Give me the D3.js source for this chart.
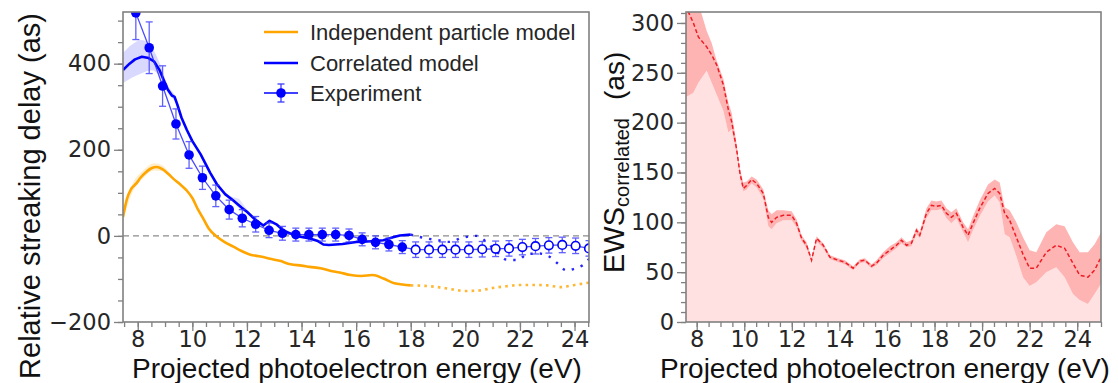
<!DOCTYPE html>
<html>
<head>
<meta charset="utf-8">
<script src="https://cdn.jsdelivr.net/npm/d3@7"></script>
<style>
  body { margin: 0; background: #fff; }
  svg { display: block; }
</style>
</head>
<body>
<svg id="chart" width="1118" height="383"></svg>
<script>
// ---------------- Left panel: relative streaking delay ----------------
// Independent particle model (solid part, computed range)
const ipmE = [7.46, 7.6, 7.75, 7.95, 8.1, 8.3, 8.5, 8.7, 8.9, 9.1, 9.3, 9.55, 9.8, 10.0, 10.2, 10.4, 10.6, 10.9, 11.2, 11.5, 11.8, 12.1, 12.5, 12.85, 13.2, 13.6, 14.0, 14.3, 14.7, 15.05, 15.4, 15.8, 16.2, 16.6, 17.0, 17.4, 17.7, 18.0];
const ipmV = [44, 85, 108, 122, 135, 148, 157, 160, 155, 145, 133, 120, 105, 88, 62, 40, 17, -2, -15, -25, -35, -43, -48, -53, -58, -66, -69, -72, -75, -81, -85, -91, -93, -91, -99, -110, -113, -115];
// Independent particle model (dotted continuation)
const ipmExtE = [18.0, 18.5, 19.0, 19.5, 20.0, 20.5, 21.0, 21.5, 22.0, 22.5, 23.0, 23.5, 24.0, 24.5, 25.0];
const ipmExtV = [-115, -116, -119, -124, -128, -127, -121, -117, -114, -114, -115, -119, -114, -109, -106];
// Uncertainty band of the independent particle model
const ipmBandE  = [7.46, 7.8, 8.2, 8.6, 8.9, 9.2, 9.5];
const ipmBandLo = [36, 100, 134, 152, 150, 136, 118];
const ipmBandHi = [54, 120, 152, 169, 164, 144, 124];

// Correlated model (solid part)
const corE = [7.46, 7.7, 7.9, 8.15, 8.4, 8.6, 8.8, 8.95, 9.1, 9.25, 9.35, 9.45, 9.6, 9.8, 10.0, 10.3, 10.65, 10.9, 11.2, 11.5, 11.8, 12.0, 12.3, 12.6, 12.83, 13.1, 13.35, 13.8, 14.3, 14.6, 14.8, 15.0, 15.5, 16.0, 16.4, 16.7, 17.0, 17.35, 17.6, 18.0];
const corV = [385, 400, 410, 416, 413, 405, 385, 362, 340, 326, 323, 305, 275, 246, 220, 190, 147, 120, 97, 82, 66, 56, 38, 24, 35, 26, 12, 0, -6, -12, -20, -21, -19, -14, -13, -12, -10, -3, 1, 3];
// Correlated model (dotted continuation)
const corExtE = [18.0, 18.3, 18.6, 19.0, 19.4, 19.9, 20.4, 20.9, 21.2, 21.5, 21.9, 22.3, 22.7, 23.1, 23.4, 23.7, 24.0, 24.3, 24.55, 25.0];
const corExtV = [3, -2, -6, -10, -14, -4, 0, -22, -40, -55, -56, -42, -41, -49, -65, -80, -76, -68, -53, -40];
// Uncertainty bands of the correlated model
const corBandE  = [7.46, 7.8, 8.15, 8.5, 8.8, 9.1, 9.4, 9.7];
const corBandLo = [355, 368, 378, 385, 372, 332, 308, 255];
const corBandHi = [425, 445, 455, 440, 402, 350, 322, 262];
const corBand2E  = [11.3, 11.5, 11.7, 11.9, 12.1];
const corBand2Lo = [88, 78, 64, 56, 50];
const corBand2Hi = [94, 90, 86, 70, 54];

// Experiment: filled points (measured) and open points
const expE   = [7.93, 8.42, 8.91, 9.40, 9.88, 10.37, 10.86, 11.35, 11.83, 12.32, 12.81, 13.30, 13.79, 14.27, 14.76, 15.25, 15.74, 16.22, 16.71, 17.20, 17.69];
const expV   = [518, 437, 348, 260, 188, 135, 93, 61, 41, 27, 13, 6, 3, 3, 3, 3, 1, -8, -15, -20, -26];
const expErr = [62, 60, 47, 35, 31, 27, 25, 22, 20, 18, 17, 16, 15, 15, 15, 15, 15, 15, 15, 15, 15];
const expOpenE   = [18.18, 18.67, 19.16, 19.64, 20.13, 20.62, 21.11, 21.60, 22.09, 22.57, 23.06, 23.55, 24.04, 24.53];
const expOpenV   = [-32, -32, -32, -32, -32, -31, -30, -29, -26, -24, -22, -21, -23, -29];
const expOpenErr = [18, 18, 18, 18, 18, 18, 18, 18, 18, 18, 18, 18, 18, 18];

const leftXTicks = [8, 10, 12, 14, 16, 18, 20, 22, 24];
const leftYTicks = [-200, 0, 200, 400];
const legendLabels = ["Independent particle model", "Correlated model", "Experiment"];

// ---------------- Right panel: EWS delay ----------------
const ewsE  = [7.55, 7.65, 7.86, 8.07, 8.42, 8.63, 8.84, 9.12, 9.33, 9.47, 9.68, 9.82, 9.96, 10.1, 10.31, 10.52, 10.8, 11.01, 11.15, 11.36, 11.64, 11.99, 12.2, 12.41, 12.62, 12.83, 13.04, 13.32, 13.6, 13.95, 14.23, 14.58, 14.86, 15.07, 15.35, 15.56, 15.84, 16.12, 16.4, 16.61, 16.82, 17.03, 17.24, 17.38, 17.66, 17.87, 18.08, 18.29, 18.5, 18.71, 18.92, 19.2, 19.41, 19.62, 19.9, 20.25, 20.53, 20.74, 20.95, 21.16, 21.44, 21.72, 22.0, 22.28, 22.7, 23.12, 23.47, 23.82, 24.1, 24.45, 24.73, 24.94, 25.0];
const ewsV  = [318, 311, 300, 286, 276, 268, 258, 238, 213, 201, 173, 149, 134, 137, 143, 139, 129, 105, 100, 105, 107, 107, 99, 84, 77, 62, 84, 77, 65, 62, 60, 54, 61, 62, 56, 59, 67, 72, 77, 82, 77, 79, 92, 87, 109, 117, 116, 117, 109, 105, 109, 95, 87, 99, 114, 129, 134, 129, 109, 102, 85, 68, 54, 54, 70, 77, 74, 59, 47, 45, 52, 62, 64];
const ewsLo = [226, 227, 230, 240, 252, 240, 228, 212, 190, 193, 168, 145, 131, 133, 139, 135, 124, 96, 93, 99, 102, 102, 95, 81, 74, 60, 81, 74, 63, 60, 58, 52, 59, 60, 54, 57, 64, 69, 74, 79, 75, 76, 88, 84, 104, 112, 112, 113, 104, 99, 104, 90, 80, 92, 106, 121, 127, 120, 88, 85, 66, 45, 36, 40, 50, 55, 45, 28, 22, 18, 28, 36, 38];
const ewsHi = [330, 330, 325, 320, 292, 280, 262, 244, 220, 210, 178, 153, 140, 141, 146, 143, 133, 112, 108, 112, 112, 111, 103, 87, 80, 64, 86, 79, 67, 64, 62, 56, 63, 64, 58, 62, 70, 76, 80, 85, 80, 82, 95, 90, 114, 122, 121, 122, 114, 110, 114, 100, 93, 106, 122, 138, 143, 140, 115, 112, 100, 85, 72, 70, 90, 98, 96, 80, 70, 70, 78, 87, 90];

const rightXTicks = [8, 10, 12, 14, 16, 18, 20, 22, 24];
const rightYTicks = [0, 50, 100, 150, 200, 250, 300];

// ---------------- Drawing ----------------
const svg = d3.select("#chart");
const TICK_FONT = "'DejaVu Sans', sans-serif";
const LABEL_FONT = "'Liberation Sans', Arial, sans-serif";
const SPINE = "#808080";
const TEXT = "#262626";

function frame(g, x, y, ticksX, minorX, ticksY, minorY) {
  const [x0, x1] = x.range();
  const [y0, y1] = y.range();
  // minor ticks
  const mx = g.append("g").attr("transform", `translate(0,${y0})`)
    .call(d3.axisBottom(x).tickValues(minorX).tickSize(5).tickFormat(""));
  const my = g.append("g").attr("transform", `translate(${x0},0)`)
    .call(d3.axisLeft(y).tickValues(minorY).tickSize(5).tickFormat(""));
  // major ticks with labels
  const ax = g.append("g").attr("transform", `translate(0,${y0})`)
    .call(d3.axisBottom(x).tickValues(ticksX).tickSize(9).tickPadding(0).tickFormat(d3.format("d")));
  const ay = g.append("g").attr("transform", `translate(${x0},0)`)
    .call(d3.axisLeft(y).tickValues(ticksY).tickSize(9).tickPadding(3).tickFormat(d3.format("d")));
  [mx, my, ax, ay].forEach(a => {
    a.select(".domain").remove();
    a.selectAll("line").attr("stroke", SPINE).attr("stroke-width", 1.3);
    a.selectAll("text").attr("font-family", TICK_FONT).attr("font-size", 22.5).attr("fill", TEXT);
  });
  // full box
  g.append("rect").attr("x", x0).attr("y", y1).attr("width", x1 - x0).attr("height", y0 - y1)
    .attr("fill", "none").attr("stroke", SPINE).attr("stroke-width", 1.6);
}

function range(a, b, s) { const r = []; for (let v = a; v <= b + 1e-9; v += s) r.push(+v.toFixed(3)); return r; }

// ===== Left panel =====
{
  const x = d3.scaleLinear().domain([7.46, 24.53]).range([123, 589]);
  const y = d3.scaleLinear().domain([-200, 520]).range([322, 12]);
  const g = svg.append("g");
  g.append("clipPath").attr("id", "clipL").append("rect")
    .attr("x", 123).attr("y", 12).attr("width", 466).attr("height", 310);
  const p = g.append("g").attr("clip-path", "url(#clipL)");

  const line = d3.line().x(d => x(d[0])).y(d => y(d[1]));
  const smooth = d3.line().x(d => x(d[0])).y(d => y(d[1])).curve(d3.curveMonotoneX);
  const band = d3.area().x(d => x(d[0])).y0(d => y(d[1])).y1(d => y(d[2])).curve(d3.curveMonotoneX);

  p.append("path").datum(d3.zip(ipmBandE, ipmBandLo, ipmBandHi)).attr("d", band)
    .attr("fill", "rgba(255,165,0,0.2)");
  p.append("path").datum(d3.zip(corBandE, corBandLo, corBandHi)).attr("d", band)
    .attr("fill", "rgba(0,0,255,0.15)");
  p.append("path").datum(d3.zip(corBand2E, corBand2Lo, corBand2Hi)).attr("d", band)
    .attr("fill", "rgba(0,0,255,0.12)");

  // zero reference
  p.append("line").attr("x1", 123).attr("x2", 589).attr("y1", y(0)).attr("y2", y(0))
    .attr("stroke", "#8c8c8c").attr("stroke-width", 1.4).attr("stroke-dasharray", "6,4");

  // model curves
  p.append("path").datum(d3.zip(ipmE, ipmV)).attr("d", smooth)
    .attr("fill", "none").attr("stroke", "#ffa500").attr("stroke-width", 2.6);
  p.append("path").datum(d3.zip(ipmExtE, ipmExtV)).attr("d", smooth)
    .attr("fill", "none").attr("stroke", "#ffa500").attr("stroke-width", 2.6)
    .attr("stroke-dasharray", "2.6,4.2").attr("opacity", 0.8);
  p.append("path").datum(d3.zip(corE, corV)).attr("d", line)
    .attr("fill", "none").attr("stroke", "#0000ff").attr("stroke-width", 2.6).attr("stroke-linejoin", "round");
  p.append("path").datum(d3.zip(corExtE, corExtV)).attr("d", smooth)
    .attr("fill", "none").attr("stroke", "#0000ff").attr("stroke-width", 2.4)
    .attr("stroke-dasharray", "2.4,7").attr("opacity", 0.85);

  // experiment
  const filled = d3.zip(expE, expV, expErr);
  const open = d3.zip(expOpenE, expOpenV, expOpenErr);
  const all = filled.concat(open);
  const eb = p.append("g").attr("stroke", "#3a3aff").attr("stroke-width", 1.3).attr("opacity", 0.8);
  all.forEach(d => {
    const cx = x(d[0]), ylo = y(d[1] - d[2]), yhi = y(d[1] + d[2]);
    eb.append("line").attr("x1", cx).attr("x2", cx).attr("y1", ylo).attr("y2", yhi);
    eb.append("line").attr("x1", cx - 3.5).attr("x2", cx + 3.5).attr("y1", ylo).attr("y2", ylo);
    eb.append("line").attr("x1", cx - 3.5).attr("x2", cx + 3.5).attr("y1", yhi).attr("y2", yhi);
  });
  p.append("path").datum(all).attr("d", line)
    .attr("fill", "none").attr("stroke", "#2a2aff").attr("stroke-width", 1.3).attr("opacity", 0.85);
  p.selectAll("circle.f").data(filled).join("circle").attr("class", "f")
    .attr("cx", d => x(d[0])).attr("cy", d => y(d[1])).attr("r", 4.8).attr("fill", "#0000ff");
  p.selectAll("circle.o").data(open).join("circle").attr("class", "o")
    .attr("cx", d => x(d[0])).attr("cy", d => y(d[1])).attr("r", 4.3)
    .attr("fill", "#fff").attr("stroke", "#0000ff").attr("stroke-width", 1.6);

  frame(g, x, y, leftXTicks, range(7.5, 24.5, 0.5), leftYTicks, range(-200, 500, 50));

  // legend (no frame)
  const lg = g.append("g");
  const rows = [32, 63, 93];
  const colors = ["#ffa500", "#0000ff", "#0000ff"];
  legendLabels.forEach((t, i) => {
    const yy = rows[i];
    lg.append("line").attr("x1", 264).attr("x2", 298).attr("y1", yy).attr("y2", yy)
      .attr("stroke", colors[i]).attr("stroke-width", i === 2 ? 1.4 : 2.4);
    if (i === 2) {
      lg.append("line").attr("x1", 281).attr("x2", 281).attr("y1", yy - 9).attr("y2", yy + 9)
        .attr("stroke", "#3a3aff").attr("stroke-width", 1.3);
      lg.append("line").attr("x1", 277.5).attr("x2", 284.5).attr("y1", yy - 9).attr("y2", yy - 9)
        .attr("stroke", "#3a3aff").attr("stroke-width", 1.3);
      lg.append("line").attr("x1", 277.5).attr("x2", 284.5).attr("y1", yy + 9).attr("y2", yy + 9)
        .attr("stroke", "#3a3aff").attr("stroke-width", 1.3);
      lg.append("circle").attr("cx", 281).attr("cy", yy).attr("r", 4.8).attr("fill", "#0000ff");
    }
    lg.append("text").attr("x", 310).attr("y", yy + 7.5).text(t)
      .attr("font-family", LABEL_FONT).attr("font-size", 22).attr("fill", TEXT);
  });

  // axis titles
  g.append("text").attr("x", 357).attr("y", 377.5).attr("text-anchor", "middle")
    .attr("font-family", LABEL_FONT).attr("font-size", 28).attr("fill", "#111")
    .text("Projected photoelectron energy (eV)");
  g.append("text").attr("transform", "translate(40,196) rotate(-90)").attr("text-anchor", "middle")
    .attr("font-family", LABEL_FONT).attr("font-size", 29).attr("fill", "#111")
    .text("Relative streaking delay (as)");
}

// ===== Right panel =====
{
  const x = d3.scaleLinear().domain([7.55, 25]).range([686, 1101]);
  const y = d3.scaleLinear().domain([0, 311]).range([322, 12]);
  const g = svg.append("g");
  g.append("clipPath").attr("id", "clipR").append("rect")
    .attr("x", 686).attr("y", 12).attr("width", 415).attr("height", 310);
  const p = g.append("g").attr("clip-path", "url(#clipR)");

  const rows = d3.zip(ewsE, ewsV, ewsLo, ewsHi);
  p.append("path").datum(rows)
    .attr("d", d3.area().x(d => x(d[0])).y0(y(0)).y1(d => y(d[2])))
    .attr("fill", "#ffe1e1");
  p.append("path").datum(rows)
    .attr("d", d3.area().x(d => x(d[0])).y0(d => y(d[2])).y1(d => y(d[3])))
    .attr("fill", "#ffb4b4");
  p.append("path").datum(rows)
    .attr("d", d3.line().x(d => x(d[0])).y(d => y(d[1])))
    .attr("fill", "none").attr("stroke", "#ee1c24").attr("stroke-width", 1.5)
    .attr("stroke-dasharray", "4,2.5");

  frame(g, x, y, rightXTicks, range(7.5, 25, 0.5).filter(v => v >= 7.55), rightYTicks, range(0, 310, 10));

  g.append("text").attr("x", 885).attr("y", 377.5).attr("text-anchor", "middle")
    .attr("font-family", LABEL_FONT).attr("font-size", 28).attr("fill", "#111")
    .text("Projected photoelectron energy (eV)");
  const t = g.append("text").attr("transform", "translate(624,273) rotate(-90)")
    .attr("font-family", LABEL_FONT).attr("fill", "#111");
  t.append("tspan").attr("font-size", 29).text("EWS");
  t.append("tspan").attr("font-size", 20).attr("dy", 5).text("correlated");
  t.append("tspan").attr("font-size", 28).attr("dy", -5).attr("dx", 18).text("(as)");
}
</script>
</body>
</html>
